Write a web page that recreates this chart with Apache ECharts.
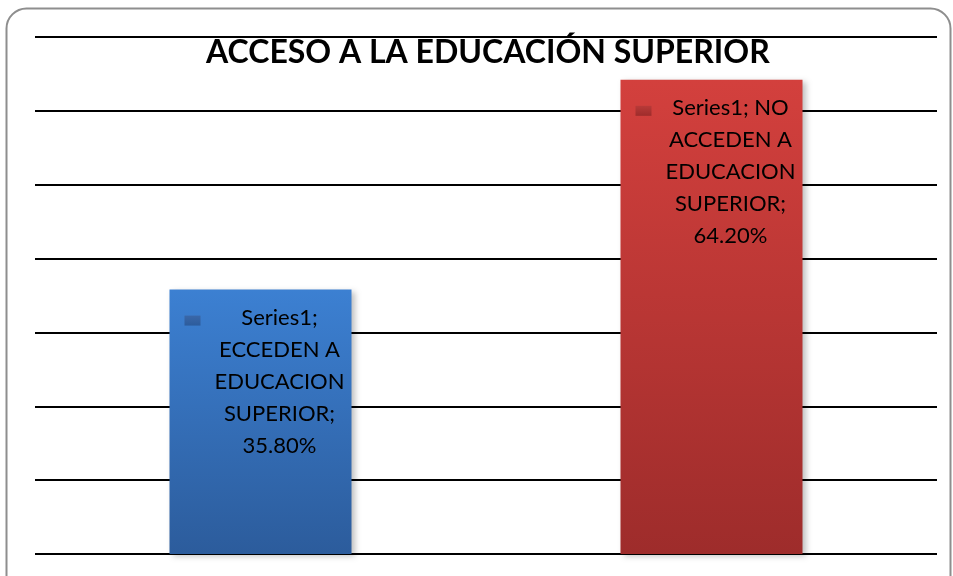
<!DOCTYPE html>
<html>
<head>
<meta charset="utf-8">
<script src="https://cdn.jsdelivr.net/npm/echarts@6/dist/echarts.min.js"></script>
<style>html,body{margin:0;padding:0;background:#fff;}#c{width:953px;height:576px;}</style>
</head>
<body>
<div id="c"></div>
<script>
const titleText = "ACCESO A LA EDUCACIÓN SUPERIOR";
const categories = ["ECCEDEN A EDUCACION SUPERIOR", "NO ACCEDEN A EDUCACION SUPERIOR"];
const seriesName = "Series1";
const values = [0.358, 0.642];
const labelLines = [
  ["Series1;", "ECCEDEN A", "EDUCACION", "SUPERIOR;", "35.80%"],
  ["Series1; NO", "ACCEDEN A", "EDUCACION", "SUPERIOR;", "64.20%"]
];
const yMax = 0.7, yStep = 0.1;

const barColors = [
  { top: '#3c80d2', bottom: '#2c5c9c', key: '#3a67a8' },
  { top: '#d3403d', bottom: '#9e2c2b', key: '#b83a38' }
];

function grad(c) {
  return new echarts.graphic.LinearGradient(0, 0, 0, 1, [
    { offset: 0, color: c.top }, { offset: 1, color: c.bottom }
  ]);
}

const chart = echarts.init(document.getElementById('c'));
chart.setOption({
  animation: false,
  title: {
    text: titleText, left: 206, top: 37, padding: 0,
    textStyle: { fontFamily: 'Lato', fontWeight: 'bold', fontSize: 32, color: '#000' }
  },
  graphic: [{
    type: 'rect', z: 100, silent: true,
    shape: { x: 6.5, y: 8.5, width: 944, height: 620, r: 20 },
    style: { fill: 'none', stroke: '#8e8e8e', lineWidth: 2 }
  }],
  grid: { left: 35, right: 16, top: 37, bottom: 22 },
  xAxis: {
    type: 'category', data: categories,
    axisLine: { show: false }, axisTick: { show: false }, axisLabel: { show: false }
  },
  yAxis: {
    type: 'value', min: 0, max: yMax, interval: yStep,
    axisLabel: { show: false }, axisLine: { show: false }, axisTick: { show: false },
    splitLine: { show: true, lineStyle: { color: '#000', width: 2 } }
  },
  series: [{
    name: seriesName, type: 'bar', barWidth: 182, z: 2,
    data: values.map((v, i) => ({
      value: v,
      itemStyle: { color: grad(barColors[i]), shadowBlur: 6, shadowOffsetX: 3, shadowOffsetY: 2, shadowColor: 'rgba(0,0,0,0.25)' },
      label: { formatter: labelLines[i].join('\n') }
    })),
    label: {
      show: true, position: 'insideTop', distance: 5, offset: [19, 7],
      fontFamily: 'Lato', fontSize: 22, lineHeight: 32, color: '#000', align: 'center'
    }
  }, {
    name: 'key', type: 'bar', barWidth: 182, barGap: '-100%', z: 3, silent: true,
    data: values.map((v, i) => ({
      value: v,
      itemStyle: { color: 'rgba(0,0,0,0)' },
      label: { rich: { sq: { width: 16, height: 10, backgroundColor: new echarts.graphic.LinearGradient(0,0,0,1,[{offset:0,color:barColors[i].key},{offset:1,color:barColors[i].bottom}]) } } }
    })),
    label: {
      show: true, position: 'insideTopLeft', distance: 5, offset: [10, 21],
      formatter: '{sq|}'
    }
  }]
});
</script>
</body>
</html>
